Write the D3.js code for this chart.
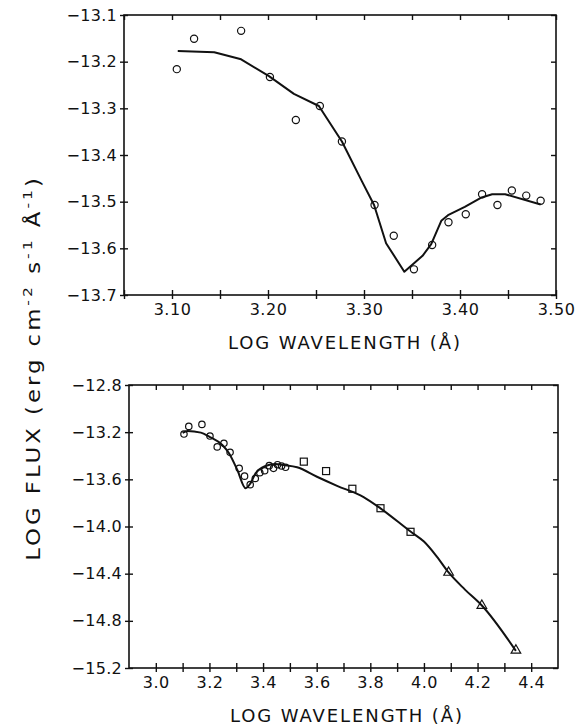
<!DOCTYPE html>
<html><head><meta charset="utf-8">
<script src="https://cdn.jsdelivr.net/npm/d3@7"></script>
<style>
html,body{margin:0;padding:0;background:#fff;}
svg text{font-family:"DejaVu Sans",sans-serif;fill:#111;}
</style></head>
<body>
<svg id="c" width="575" height="726"></svg>
<script>
// ---- data ----
const iueLogWave = [3.105, 3.123, 3.172, 3.202, 3.229, 3.254, 3.277, 3.311, 3.331, 3.352, 3.371, 3.388, 3.406, 3.423, 3.439, 3.454, 3.469, 3.484];
const iueLogFlux = [-13.216, -13.151, -13.134, -13.233, -13.325, -13.295, -13.371, -13.507, -13.573, -13.645, -13.593, -13.544, -13.527, -13.484, -13.507, -13.476, -13.487, -13.498];

const sqLogWave = [3.552, 3.635, 3.733, 3.838, 3.950];
const sqLogFlux = [-13.450, -13.530, -13.680, -13.845, -14.045];

const triLogWave = [4.092, 4.216, 4.343];
const triLogFlux = [-14.390, -14.670, -15.050];

const topModelWave = [3.106, 3.144, 3.172, 3.201, 3.227, 3.253, 3.277, 3.298, 3.3105, 3.323, 3.342, 3.361, 3.370, 3.3805, 3.3875, 3.405, 3.4226, 3.4335, 3.447, 3.484];
const topModelFlux = [-13.177, -13.180, -13.195, -13.231, -13.269, -13.295, -13.371, -13.457, -13.507, -13.589, -13.650, -13.616, -13.591, -13.541, -13.529, -13.511, -13.491, -13.484, -13.484, -13.506];

const botModelWave = [3.100, 3.118, 3.168, 3.199, 3.248, 3.273, 3.304, 3.335, 3.353, 3.372, 3.409, 3.446, 3.477, 3.527, 3.601, 3.676, 3.775, 3.838, 3.950, 4.000, 4.048, 4.092, 4.153, 4.216, 4.343];
const botModelFlux = [-13.205, -13.190, -13.204, -13.238, -13.309, -13.379, -13.521, -13.676, -13.634, -13.549, -13.487, -13.470, -13.479, -13.498, -13.578, -13.655, -13.750, -13.846, -14.043, -14.128, -14.255, -14.390, -14.535, -14.670, -15.055];

const topXTicks = [3.05, 3.10, 3.15, 3.20, 3.25, 3.30, 3.35, 3.40, 3.45, 3.50];
const topXLabels = [3.10, 3.20, 3.30, 3.40, 3.50];
const topYTicks = [-13.1, -13.2, -13.3, -13.4, -13.5, -13.6, -13.7];
const botXTicks = [3.0, 3.1, 3.2, 3.3, 3.4, 3.5, 3.6, 3.7, 3.8, 3.9, 4.0, 4.1, 4.2, 4.3, 4.4];
const botXLabels = [3.0, 3.2, 3.4, 3.6, 3.8, 4.0, 4.2, 4.4];
const botYTicks = [-12.8, -13.2, -13.6, -14.0, -14.4, -14.8, -15.2];

const xTitle = "LOG WAVELENGTH (Å)";
// y title pieces: [text, superscript?]
const yTitlePieces = [["LOG FLUX (erg cm", false], ["-2", true], [" s", false], ["-1", true], [" Å", false], ["-1", true], [")", false]];

// ---- drawing ----
const svg = d3.select("#c");
const ink = "#111";

function panel(cfg) {
  const x = d3.scaleLinear().domain(cfg.xd).range(cfg.xr);
  const y = d3.scaleLinear().domain(cfg.yd).range(cfg.yr);
  const g = svg.append("g");
  const [x0, x1] = cfg.xr, [y0, y1] = [cfg.yr[1], cfg.yr[0]];

  g.append("rect").attr("x", x0).attr("y", y0).attr("width", x1 - x0).attr("height", y1 - y0)
    .attr("fill", "none").attr("stroke", ink).attr("stroke-width", 1.6);

  g.append("g").attr("transform", `translate(0,${y1})`)
    .call(d3.axisBottom(x).tickValues(cfg.xTicks).tickSize(4).tickSizeOuter(0).tickFormat(""));
  g.append("g").attr("transform", `translate(0,${y1})`)
    .call(d3.axisBottom(x).tickValues(cfg.xTicks).tickSize(-5).tickSizeOuter(0).tickFormat(""));
  g.append("g").attr("transform", `translate(0,${y1})`)
    .call(d3.axisBottom(x).tickValues(cfg.xLabels).tickSize(0).tickPadding(cfg.labPad).tickFormat(d3.format(cfg.xfmt)))
    .call(s => s.selectAll("text").attr("font-size", 16).style("letter-spacing", "0.5px"));
  g.append("g").attr("transform", `translate(0,${y0})`)
    .call(d3.axisTop(x).tickValues(cfg.xTicks).tickSize(-5).tickSizeOuter(0).tickFormat(""));

  g.append("g").attr("transform", `translate(${x0},0)`)
    .call(d3.axisLeft(y).tickValues(cfg.yTicks).tickSize(4).tickSizeOuter(0).tickPadding(3).tickFormat(d3.format(".1f")))
    .call(s => s.selectAll("text").attr("font-size", 16).style("letter-spacing", "0.3px"));
  g.append("g").attr("transform", `translate(${x0},0)`)
    .call(d3.axisLeft(y).tickValues(cfg.yTicks).tickSize(-4).tickSizeOuter(0).tickFormat(""));
  g.append("g").attr("transform", `translate(${x1},0)`)
    .call(d3.axisRight(y).tickValues(cfg.yTicks).tickSize(-5).tickSizeOuter(0).tickFormat(""));

  g.selectAll(".domain").attr("stroke", "none");
  g.selectAll(".tick line").attr("stroke", ink).attr("stroke-width", 1.4);
  g.selectAll(".tick text").attr("fill", ink).attr("font-family", "DejaVu Sans, sans-serif");

  g.append("text").attr("x", cfg.titleX).attr("y", y1 + cfg.titleDy)
    .attr("text-anchor", "middle").attr("font-size", 18)
    .attr("textLength", 232).attr("lengthAdjust", "spacing")
    .text(xTitle);

  const line = d3.line().x(d => x(d[0])).y(d => y(d[1])).curve(cfg.curve);
  g.append("path").datum(d3.zip(cfg.mw, cfg.mf)).attr("d", line)
    .attr("fill", "none").attr("stroke", ink).attr("stroke-width", 2).attr("stroke-linejoin", "round");

  g.selectAll("circle.obs").data(d3.zip(iueLogWave, iueLogFlux)).join("circle")
    .attr("class", "obs").attr("cx", d => x(d[0])).attr("cy", d => y(d[1])).attr("r", cfg.r)
    .attr("fill", "none").attr("stroke", ink).attr("stroke-width", 1.2);

  if (cfg.extra) {
    g.selectAll("rect.sq").data(d3.zip(sqLogWave, sqLogFlux)).join("rect")
      .attr("class", "sq").attr("x", d => x(d[0]) - 3.5).attr("y", d => y(d[1]) - 3.5)
      .attr("width", 7).attr("height", 7).attr("fill", "none").attr("stroke", ink).attr("stroke-width", 1.2);
    const tri = d3.symbol().type(d3.symbolTriangle).size(40);
    g.selectAll("path.tri").data(d3.zip(triLogWave, triLogFlux)).join("path")
      .attr("class", "tri").attr("d", tri)
      .attr("transform", d => `translate(${x(d[0])},${y(d[1])})`)
      .attr("fill", "none").attr("stroke", ink).attr("stroke-width", 1.2);
  }
}

panel({
  xd: [3.05, 3.50], xr: [124, 556], yd: [-13.7, -13.1], yr: [295, 15],
  xTicks: topXTicks, xLabels: topXLabels, yTicks: topYTicks, xfmt: ".2f",
  labPad: 9, titleX: 344, titleDy: 54, mw: topModelWave, mf: topModelFlux,
  curve: d3.curveLinear, r: 3.6, extra: false
});
panel({
  xd: [2.9, 4.5], xr: [129, 558], yd: [-15.2, -12.8], yr: [668, 385],
  xTicks: botXTicks, xLabels: botXLabels, yTicks: botYTicks, xfmt: ".1f",
  labPad: 9, titleX: 346, titleDy: 54, mw: botModelWave, mf: botModelFlux,
  curve: d3.curveMonotoneX, r: 3.2, extra: true
});

// y title (shared): a slightly widened, spaced face, like the original lettering
const yt = svg.append("text")
  .attr("transform", "translate(40,368) rotate(-90) scale(1.2,1)")
  .attr("text-anchor", "middle").attr("font-size", 19).style("letter-spacing", "2.5px");
yTitlePieces.forEach(p => {
  yt.append("tspan")
    .attr("dy", p[1] ? -8 : (p[0] === yTitlePieces[0][0] ? 0 : 8))
    .attr("font-size", p[1] ? 13 : 19)
    .text(p[0]);
});
</script>
</body></html>
